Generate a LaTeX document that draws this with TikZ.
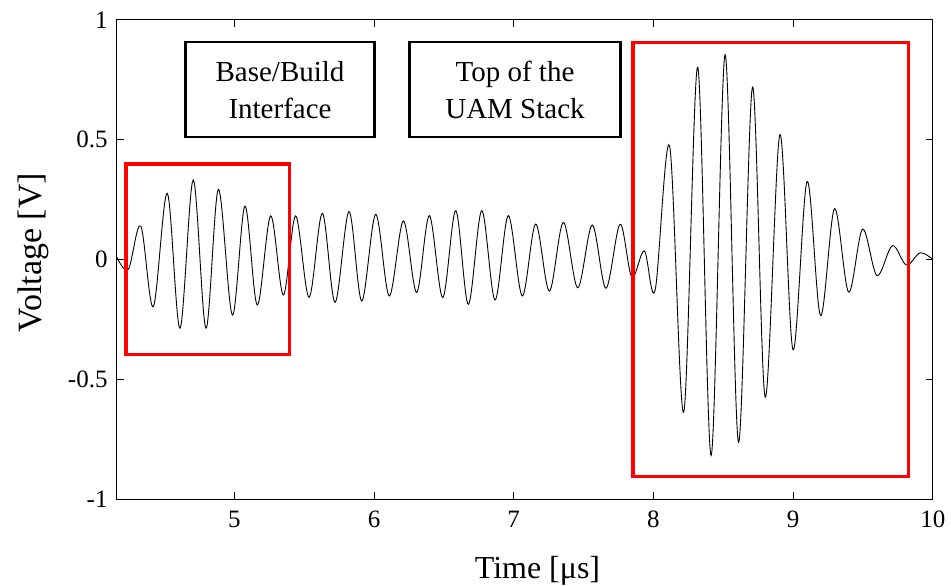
\documentclass[tikz,border=0pt]{standalone}
\usepackage{fontspec}
\setmainfont{Liberation Serif}
\begin{document}
\begin{tikzpicture}[x=139.7pt, y=239.5pt,
	ticklabel/.style={font=\fontsize{25}{30}\selectfont, inner sep=0pt},
	axislabel/.style={font=\fontsize{32}{38}\selectfont, inner sep=0pt},
	notebox/.style={draw, line width=2.6pt, align=center, minimum height=95pt, font=\fontsize{29}{37}\selectfont},
	redbox/.style={draw=red, line width=3.5pt}]
	\useasboundingbox (3.3226,-1.3591) rectangle (10.13,1.0835);
	
	% Axes
	\draw[line width=1pt] (4.158,-1) rectangle (10,1);
	\foreach \x in {5,...,9} {
		\draw[line width=1pt] (\x,-1) -- ++(0,7pt);
		\draw[line width=1pt] (\x,1) -- ++(0,-7pt);
	}
	\foreach \y in {-0.5,0,0.5} {
		\draw[line width=1pt] (4.158,\y) -- ++(7pt,0);
		\draw[line width=1pt] (10,\y) -- ++(-7pt,0);
	}
	
	% Tick labels
	\foreach \x in {5,...,10}
		\node[ticklabel] (xtick\x) at (\x,-1.0835) {\x};
	\foreach \y [count=\i] in {1,0.5,0,-0.5,-1}
		\node[ticklabel, anchor=east] (ytick\i) at (4.094,\y) {\y};
	
	% Signal
	\draw[line width=0.9pt] plot[smooth, tension=0.55] coordinates {
		(4.158,0.01) (4.241,-0.041) (4.330,0.140) (4.420,-0.197) (4.520,0.276)
		(4.611,-0.287) (4.706,0.332) (4.797,-0.287) (4.886,0.293) (4.986,-0.232)
		(5.076,0.223) (5.164,-0.190) (5.260,0.182) (5.351,-0.148) (5.439,0.182)
		(5.535,-0.158) (5.630,0.193) (5.721,-0.179) (5.821,0.200) (5.912,-0.173)
		(6.012,0.189) (6.109,-0.152) (6.210,0.161) (6.305,-0.137) (6.396,0.183)
		(6.492,-0.159) (6.585,0.204) (6.675,-0.187) (6.771,0.204) (6.866,-0.169)
		(6.961,0.183) (7.061,-0.152) (7.157,0.148) (7.255,-0.132) (7.355,0.155)
		(7.458,-0.118) (7.562,0.144) (7.660,-0.120) (7.761,0.147) (7.845,-0.073)
		(7.935,0.036) (8.012,-0.128) (8.116,0.472) (8.217,-0.637) (8.317,0.803)
		(8.413,-0.818) (8.513,0.855) (8.609,-0.763) (8.709,0.720) (8.800,-0.575)
		(8.905,0.521) (8.999,-0.377) (9.100,0.326) (9.196,-0.234) (9.296,0.212)
		(9.397,-0.136) (9.497,0.127) (9.600,-0.067) (9.710,0.058) (9.810,-0.023)
		(9.910,0.028) (10,0)};
	
	% Marked regions
	\draw[redbox] (4.225,-0.397) rectangle (5.394,0.399);
	\draw[redbox] (7.855,-0.905) rectangle (9.825,0.907);
	
	% Notes
	\node[notebox, minimum width=189pt] (basebox) at (5.327,0.709) {Base/Build\\Interface};
	\node[notebox, minimum width=211pt] (stackbox) at (7.009,0.709) {Top of the\\UAM Stack};
	
	% Axis labels
	\node[axislabel, anchor=base] (timelabel) at (7.17,-1.33) {Time [μs]};
	\node[axislabel, font=\fontsize{34}{40}\selectfont, rotate=90, anchor=base] (voltlabel) at (3.621,0.029) {Voltage [V]};
\end{tikzpicture}
\end{document}
